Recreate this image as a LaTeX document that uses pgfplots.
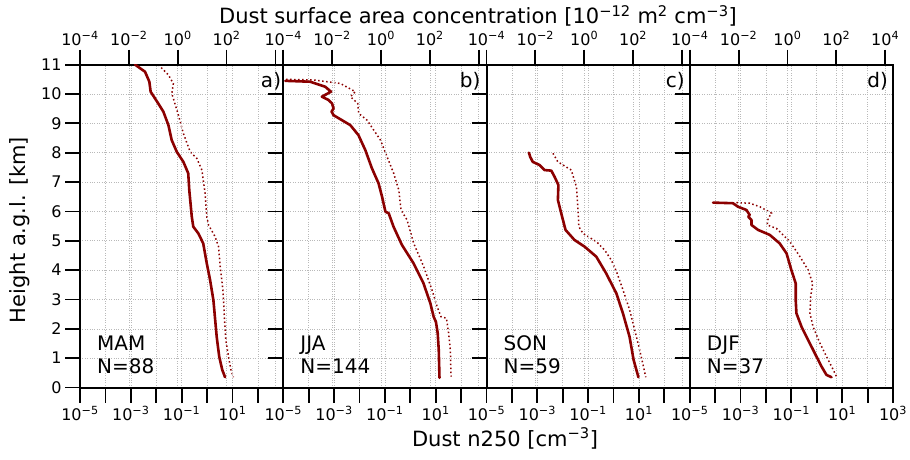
\documentclass[border=0pt]{standalone}
\usepackage{fontspec}
\setmainfont{DejaVu Sans}
\usepackage{pgfplots}
\pgfplotsset{compat=1.18}
\definecolor{dred}{RGB}{139,0,0}
\newcommand{\tl}[1]{10\textsuperscript{#1}}
\tikzset{ptext/.style={font=\fontsize{20}{24}\selectfont, inner sep=0pt}}
\pgfplotsset{
  basepanel/.style={
    scale only axis, width=203.25pt, height=322.8pt,
    ymin=0, ymax=11,
    axis line style={line width=2pt},
    major tick length=15pt, minor tick length=0pt,
    tick align=outside,
    every tick/.style={line width=1.8pt, black},
    grid style={dotted, line width=0.6pt, gray!55},
    tick label style={font=\fontsize{16}{19}\selectfont},
    /pgf/number format/assume math mode=true,
  },
  bottompanel/.style={basepanel,
    xmin=1e-5, xmax=1e3,
    xtick={1e-5,1e-4,1e-3,1e-2,1e-1,1,1e1,1e2,1e3},
    xticklabels={\tl{−5},,\tl{−3},,\tl{−1},,\tl{1},,#1},
    xtick pos=left, ytick pos=left,
    ytick={0,1,2,3,4,5,6,7,8,9,10,11},
    xmajorgrids, ymajorgrids,
  },
  toppanel/.style={basepanel,
    xmin=1e-4, xmax=2.09e4,
    xtick={1e-4,1e-2,1,1e2,1e4},
    xticklabels={\tl{−4},\tl{−2},\tl{0},\tl{2},#1},
    xtick pos=right, xticklabel pos=right,
    ytick=\empty, xmajorgrids,
  },
  solidline/.style={dred, line width=2.6pt, line join=round, line cap=round},
  dotline/.style={dred, line width=1.5pt, dash pattern=on 1.5pt off 2.5pt},
}
\begin{document}
\begin{tikzpicture}
\useasboundingbox (0,0) rectangle (910pt,459pt);

% ---------------- panel a ----------------
\begin{semilogxaxis}[toppanel={}, at={(80pt,71.5pt)}, anchor=south west]
\addplot[dotline] coordinates {
(0.162,11.0) (0.417,10.65) (0.661,10.36) (0.575,10.02) (0.661,9.85) (1.07,9.28)
(1.70,8.66) (3.24,8.03) (6.03,7.81) (9.77,7.41) (13.2,6.62) (15.5,5.82) (18.2,5.54)
(33.9,5.14) (46.8,4.80) (55.0,4.12) (70.8,3.32) (81.3,2.41) (93.3,1.62) (120,1.05)
(151,0.60) (191,0.35)};
\end{semilogxaxis}
\begin{semilogxaxis}[bottompanel={}, at={(80pt,71.5pt)}, anchor=south west]
\addplot[solidline] coordinates {
(1.48e-3,11.0) (3.63e-3,10.76) (5.37e-3,10.42) (6.03e-3,10.08) (1.20e-2,9.68)
(1.91e-2,9.40) (3.02e-2,8.94) (4.07e-2,8.43) (6.46e-2,8.03) (0.117,7.69) (0.182,7.30)
(0.200,6.73) (0.251,5.82) (0.288,5.48) (0.457,5.25) (0.708,4.91) (0.977,4.23)
(1.32,3.66) (1.78,2.98) (2.04,2.41) (2.40,1.73) (3.02,1.05) (3.98,0.60) (5.13,0.35)};
\node[ptext, anchor=north east] at ([xshift=-2pt,yshift=-7pt]rel axis cs:1,1) {a)};
\node[ptext, anchor=base west] at ([xshift=17pt,yshift=37pt]rel axis cs:0,0) {MAM};
\node[ptext, anchor=base west] at ([xshift=17pt,yshift=14pt]rel axis cs:0,0) {N=88};
\end{semilogxaxis}

% ---------------- panel b ----------------
\begin{semilogxaxis}[toppanel={}, at={(283.25pt,71.5pt)}, anchor=south west]
\addplot[dotline] coordinates {
(1.32e-4,10.50) (1.74e-3,10.48) (2.19e-2,10.36) (8.91e-2,10.08) (5.62e-2,9.91)
(0.112,9.68) (0.123,9.34) (0.269,9.11) (0.955,8.43) (1.78,7.86) (3.31,7.30)
(5.37,6.73) (6.61,6.05) (11.7,5.71) (21.9,4.91) (56.2,4.12) (123,3.32) (200,2.75)
(288,2.41) (479,2.36) (589,1.85) (692,1.28) (741,0.37)};
\end{semilogxaxis}
\begin{semilogxaxis}[bottompanel={}, yticklabels={}, at={(283.25pt,71.5pt)}, anchor=south west]
\addplot[solidline] coordinates {
(1.20e-5,10.45) (1.15e-4,10.42) (4.47e-4,10.25) (7.59e-4,10.08) (3.31e-4,9.91)
(6.03e-4,9.80) (8.32e-4,9.68) (9.55e-4,9.51) (8.0e-4,9.40) (9.55e-4,9.28)
(2.04e-3,9.11) (4.37e-3,8.94) (9.12e-3,8.60) (1.70e-2,8.09) (3.09e-2,7.47)
(5.62e-2,6.96) (7.76e-2,6.50) (0.105,5.99) (0.141,5.94) (0.219,5.48) (0.468,4.86)
(1.35,4.23) (3.31,3.55) (6.17,2.87) (8.32,2.41) (10.2,2.24) (12.0,1.85) (13.2,1.28)
(14.1,0.33)};
\node[ptext, anchor=north east] at ([xshift=-6pt,yshift=-7pt]rel axis cs:1,1) {b)};
\node[ptext, anchor=base west] at ([xshift=17pt,yshift=37pt]rel axis cs:0,0) {JJA};
\node[ptext, anchor=base west] at ([xshift=17pt,yshift=14pt]rel axis cs:0,0) {N=144};
\end{semilogxaxis}

% ---------------- panel c ----------------
\begin{semilogxaxis}[toppanel={}, at={(486.5pt,71.5pt)}, anchor=south west]
\addplot[dotline] coordinates {
(5.25e-2,7.98) (8.32e-2,7.69) (0.295,7.41) (0.479,6.84) (0.550,6.16) (0.603,5.48)
(0.891,5.25) (3.16,4.97) (6.92,4.68) (12.9,4.34) (20.9,3.95) (38.9,3.32) (72.4,2.64)
(117,1.96) (186,1.28) (257,0.77) (331,0.35)};
\end{semilogxaxis}
\begin{semilogxaxis}[bottompanel={}, yticklabels={}, at={(486.5pt,71.5pt)}, anchor=south west]
\addplot[solidline] coordinates {
(4.68e-4,8.00) (5.25e-4,7.86) (6.61e-4,7.69) (1.23e-3,7.58) (1.91e-3,7.41)
(3.55e-3,7.39) (4.79e-3,7.18) (6.76e-3,6.90) (6.46e-3,6.39) (8.71e-3,5.94)
(1.29e-2,5.37) (2.88e-2,5.03) (7.24e-2,4.80) (0.209,4.46) (0.513,3.89) (1.29,3.21)
(2.34,2.53) (4.27,1.73) (6.17,0.94) (9.55,0.35)};
\node[ptext, anchor=north east] at ([xshift=-5pt,yshift=-7pt]rel axis cs:1,1) {c)};
\node[ptext, anchor=base west] at ([xshift=17pt,yshift=37pt]rel axis cs:0,0) {SON};
\node[ptext, anchor=base west] at ([xshift=17pt,yshift=14pt]rel axis cs:0,0) {N=59};
\end{semilogxaxis}

% ---------------- panel d ----------------
\begin{semilogxaxis}[toppanel={\tl{4}}, at={(689.75pt,71.5pt)}, anchor=south west]
\addplot[dotline] coordinates {
(8.13e-3,6.30) (2.88e-2,6.28) (7.41e-2,6.16) (0.224,5.94) (0.162,5.77) (0.148,5.54)
(0.355,5.42) (1.26,4.97) (3.24,4.46) (7.08,4.00) (10.7,3.55) (8.91,3.09) (8.32,2.53)
(11.2,2.07) (21.4,1.51) (39.8,1.05) (64.6,0.71) (102,0.37)};
\end{semilogxaxis}
\begin{semilogxaxis}[bottompanel={\tl{3}}, yticklabels={}, at={(689.75pt,71.5pt)}, anchor=south west]
\addplot[solidline] coordinates {
(8.32e-5,6.30) (5.01e-4,6.28) (7.94e-4,6.16) (1.70e-3,6.05) (2.29e-3,5.88)
(2.00e-3,5.82) (2.69e-3,5.71) (2.69e-3,5.54) (4.90e-3,5.37) (1.41e-2,5.20)
(3.47e-2,4.91) (6.46e-2,4.57) (0.100,4.00) (0.148,3.55) (0.148,2.98) (0.158,2.53)
(0.251,2.07) (0.457,1.62) (0.832,1.17) (1.55,0.71) (2.40,0.43) (3.80,0.35)};
\node[ptext, anchor=north east] at ([xshift=-5pt,yshift=-7pt]rel axis cs:1,1) {d)};
\node[ptext, anchor=base west] at ([xshift=17pt,yshift=37pt]rel axis cs:0,0) {DJF};
\node[ptext, anchor=base west] at ([xshift=17pt,yshift=14pt]rel axis cs:0,0) {N=37};
\end{semilogxaxis}

% ---------------- figure labels ----------------
\node[font=\fontsize{21}{25}\selectfont, anchor=base] at (478pt,435pt)
  {Dust surface area concentration [10\textsuperscript{−12} m\textsuperscript{2} cm\textsuperscript{−3}]};
\node[font=\fontsize{21}{25}\selectfont, anchor=base] at (505pt,13pt)
  {Dust n250 [cm\textsuperscript{−3}]};
\node[font=\fontsize{21}{25}\selectfont, rotate=90, anchor=center] at (20pt,229pt)
  {Height a.g.l. [km]};
\end{tikzpicture}
\end{document}
